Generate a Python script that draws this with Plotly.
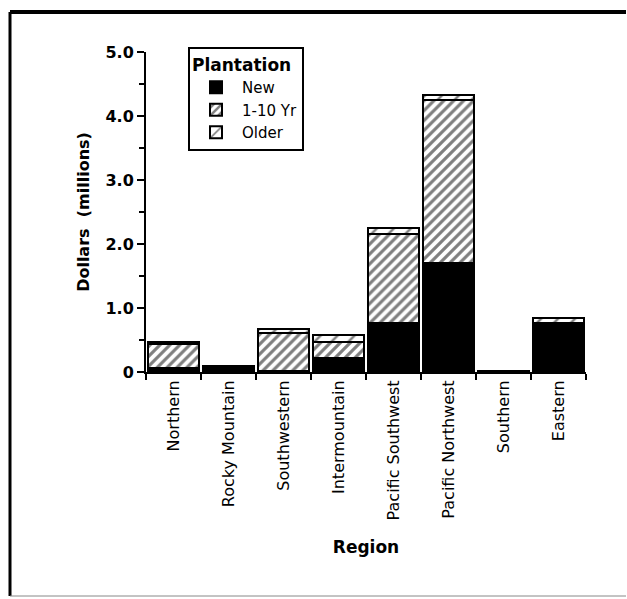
import plotly.graph_objects as go

regions = ["Northern", "Rocky Mountain", "Southwestern", "Intermountain",
           "Pacific Southwest", "Pacific Northwest", "Southern", "Eastern"]
new_vals = [0.06, 0.04, 0.02, 0.22, 0.77, 1.70, 0.0, 0.73]
yr1_10_vals = [0.37, 0.04, 0.59, 0.25, 1.39, 2.55, 0.0, 0.04]
older_vals = [0.04, 0.01, 0.06, 0.11, 0.09, 0.08, 0.01, 0.07]
y_tick_vals = [0, 1, 2, 3, 4, 5]
y_tick_text = ["0", "1.0", "2.0", "3.0", "4.0", "5.0"]

FONT = "DejaVu Sans"

fig = go.Figure()
fig.add_trace(go.Bar(
    x=regions, y=new_vals, name="New",
    marker=dict(color="black", line=dict(color="black", width=2)),
))
fig.add_trace(go.Bar(
    x=regions, y=yr1_10_vals, name="1-10 Yr",
    marker=dict(color="white", line=dict(color="black", width=2),
                pattern=dict(shape="/", fgcolor="black", bgcolor="white",
                             size=7, solidity=0.45, fillmode="overlay")),
))
fig.add_trace(go.Bar(
    x=regions, y=older_vals, name="Older",
    marker=dict(color="white", line=dict(color="black", width=2),
                pattern=dict(shape="/", fgcolor="black", bgcolor="white",
                             size=12, solidity=0.2, fillmode="overlay")),
))

L, R, T, B = 146, 586, 52, 372
W, H = 627, 599

def px(x):
    return (x - L) / (R - L)

def py(y):
    return (B - y) / (B - T)

shapes = [
    dict(type="line", xref="paper", yref="paper", x0=px(10), x1=px(10), y0=py(12), y1=py(596),
         line=dict(color="black", width=3)),
    dict(type="line", xref="paper", yref="paper", x0=px(10), x1=px(626), y0=py(12), y1=py(12),
         line=dict(color="black", width=4)),
    dict(type="line", xref="paper", yref="paper", x0=px(10), x1=px(626), y0=py(596), y1=py(596),
         line=dict(color="#888888", width=1)),
]

fig.update_layout(
    width=W, height=H,
    margin=dict(l=L, r=W - R, t=T, b=H - B, pad=0),
    paper_bgcolor="white", plot_bgcolor="white",
    barmode="stack", bargap=0.07,
    font=dict(family=FONT, color="black", size=15),
    showlegend=True,
    legend=dict(
        x=px(188), y=py(47), xanchor="left", yanchor="top",
        bordercolor="black", borderwidth=2, bgcolor="white",
        traceorder="normal",
        title=dict(text="<b>Plantation</b>", font=dict(size=17, family=FONT)),
        font=dict(size=15, family=FONT),
        itemwidth=42, tracegroupgap=0,
    ),
    shapes=shapes,
    xaxis=dict(
        showline=True, linecolor="black", linewidth=2,
        ticks="outside", tickson="boundaries", ticklen=6, tickwidth=2, tickcolor="black",
        tickangle=-90, tickfont=dict(size=16, family=FONT),
        title=dict(text="<b>Region</b>", font=dict(size=17, family=FONT), standoff=22),
        showgrid=False,
    ),
    yaxis=dict(
        range=[0, 5], showline=True, linecolor="black", linewidth=2,
        tickvals=y_tick_vals, ticktext=y_tick_text,
        ticks="outside", ticklen=7, tickwidth=2, tickcolor="black",
        minor=dict(dtick=0.5, ticks="outside", ticklen=5, tickwidth=1.5, tickcolor="black"),
        tickfont=dict(size=16, family=FONT, weight="bold"),
        title=dict(text="<b>Dollars  (millions)</b>", font=dict(size=16, family=FONT), standoff=12),
        showgrid=False, zeroline=False,
    ),
)

fig.write_html("out.html", config={"displayModeBar": False},
               post_script="document.body.style.margin='0';")
